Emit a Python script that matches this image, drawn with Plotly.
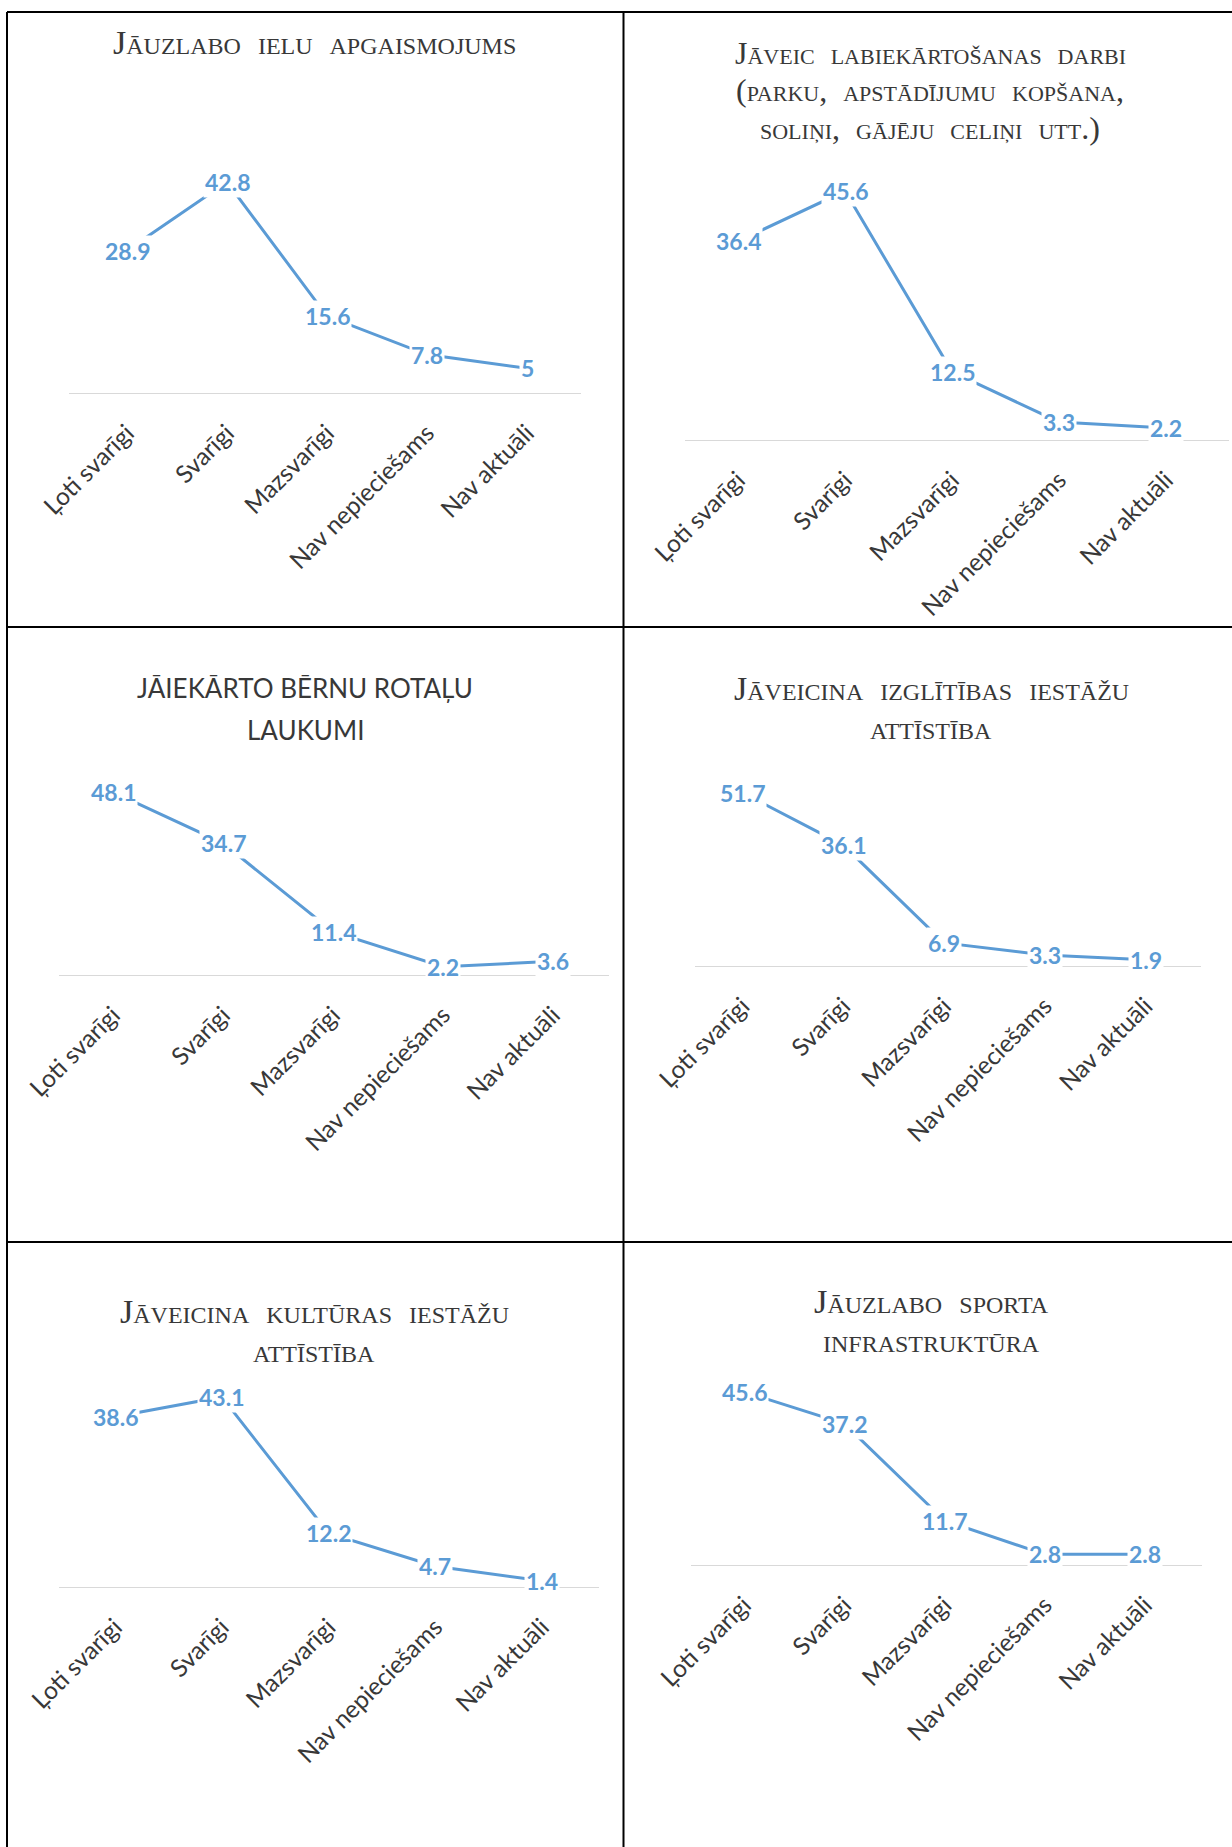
import plotly.graph_objects as go

# ---------------- data ----------------
categories = ["Ļoti svarīgi", "Svarīgi", "Mazsvarīgi", "Nav nepieciešams", "Nav aktuāli"]

vals_apgaismojums = [28.9, 42.8, 15.6, 7.8, 5]
vals_labiekartosana = [36.4, 45.6, 12.5, 3.3, 2.2]
vals_rotalu_laukumi = [48.1, 34.7, 11.4, 2.2, 3.6]
vals_izglitiba = [51.7, 36.1, 6.9, 3.3, 1.9]
vals_kultura = [38.6, 43.1, 12.2, 4.7, 1.4]
vals_sports = [45.6, 37.2, 11.7, 2.8, 2.8]

title_apgaismojums = ["Jāuzlabo  ielu  apgaismojums"]
title_labiekartosana = ["Jāveic  labiekārtošanas  darbi",
                        "(parku,  apstādījumu  kopšana,",
                        "soliņi,  gājēju  celiņi  utt.)"]
title_rotalu_laukumi = ["JĀIEKĀRTO BĒRNU ROTAĻU", "LAUKUMI"]
title_izglitiba = ["Jāveicina  izglītības  iestāžu", "attīstība"]
title_kultura = ["Jāveicina  kultūras  iestāžu", "attīstība"]
title_sports = ["Jāuzlabo  sporta", "infrastruktūra"]

series = [vals_apgaismojums, vals_labiekartosana, vals_rotalu_laukumi,
          vals_izglitiba, vals_kultura, vals_sports]
titles = [title_apgaismojums, title_labiekartosana, title_rotalu_laukumi,
          title_izglitiba, title_kultura, title_sports]

# ---------------- layout geometry (pixels) ----------------
W, H = 1232, 1847
def fx(px):
    return px / W
def fy(py):
    return 1 - py / H

# axis-left, axis-right, centre of 3rd category, category spacing, y of zero, px per unit
geom = [
    (69, 581, 327, 100.0, 393, 4.93),
    (685, 1229, 952, 107.0, 440, 5.46),
    (59, 609, 333, 110.0, 975, 3.80),
    (695, 1201, 944, 100.75, 966, 3.35),
    (59, 599, 328.5, 106.75, 1587, 4.41),
    (691, 1202, 944.5, 100.25, 1565, 3.80),
]
# title: centre x, line y positions, serif?, font size
title_geom = [
    (314, [42], True, 34),
    (930, [53, 90.5, 128], True, 32),
    (305, [688, 730], False, 26),
    (931, [688, 727], True, 34),
    (314, [1311, 1350], True, 34),
    (932, [1301, 1340], True, 34.5),
]

LINE_COLOR = "#5B9BD5"
LABEL_COLOR = "#5B9BD5"
TEXT_COLOR = "#383838"
YMAX = 60

fig = go.Figure()
annotations = []
layout_axes = {}

for i, (vals, ttl) in enumerate(zip(series, titles)):
    n = "" if i == 0 else str(i + 1)
    x0, x1, c, sp, z, ppu = geom[i]
    lo = 2 - (c - x0) / sp
    hi = 2 + (x1 - c) / sp
    fig.add_trace(go.Scatter(
        x=list(range(len(categories))), y=vals, mode="lines",
        line=dict(color=LINE_COLOR, width=3),
        xaxis="x" + n, yaxis="y" + n, showlegend=False, hoverinfo="skip"))
    layout_axes["xaxis" + n] = dict(
        domain=[fx(x0), fx(x1)], range=[lo, hi], anchor="y" + n,
        tickmode="array", tickvals=list(range(len(categories))), ticktext=categories,
        tickangle=-45, tickfont=dict(family="Lato", size=24.5, color=TEXT_COLOR),
        showgrid=False, zeroline=False, showline=True, linecolor="#d9d9d9",
        linewidth=1, ticks="", fixedrange=True, ticklabelstandoff=15,
        automargin=False)
    layout_axes["yaxis" + n] = dict(
        domain=[fy(z), fy(z - YMAX * ppu)], range=[0, YMAX], anchor="x" + n,
        visible=False, fixedrange=True, automargin=False)
    for k, v in enumerate(vals):
        annotations.append(dict(
            x=k, y=v, xref="x" + n, yref="y" + n, text=f"{v:g}",
            showarrow=False, bgcolor="white", borderpad=1,
            font=dict(family="Lato", size=23, color=LABEL_COLOR, weight="bold")))
    tx, tys, serif, fs = title_geom[i]
    for line, ty in zip(ttl, tys):
        if serif:
            font = dict(family="Liberation Serif", size=fs, color=TEXT_COLOR,
                        variant="small-caps")
        else:
            font = dict(family="Lato", size=fs, color=TEXT_COLOR)
        annotations.append(dict(
            x=fx(tx), y=fy(ty), xref="paper", yref="paper", text=line,
            showarrow=False, xanchor="center", yanchor="middle", font=font))

# table borders
shapes = []
BW = 2
for (xa, ya, xb, yb) in [
    (7, 12, 1232, 12),      # top
    (7, 12, 7, 1847),       # left
    (623.5, 12, 623.5, 1847),  # middle
    (7, 627, 1232, 627),    # row divider 1
    (7, 1242, 1232, 1242),  # row divider 2
]:
    shapes.append(dict(type="line", xref="paper", yref="paper",
                       x0=fx(xa), y0=fy(ya), x1=fx(xb), y1=fy(yb),
                       line=dict(color="black", width=BW)))

fig.update_layout(
    width=W, height=H, margin=dict(l=0, r=0, t=0, b=0, autoexpand=False),
    paper_bgcolor="white", plot_bgcolor="rgba(0,0,0,0)",
    annotations=annotations, shapes=shapes, **layout_axes)

fig.write_html("out.html", config={"displayModeBar": False},
               post_script="document.body.style.margin='0';")
